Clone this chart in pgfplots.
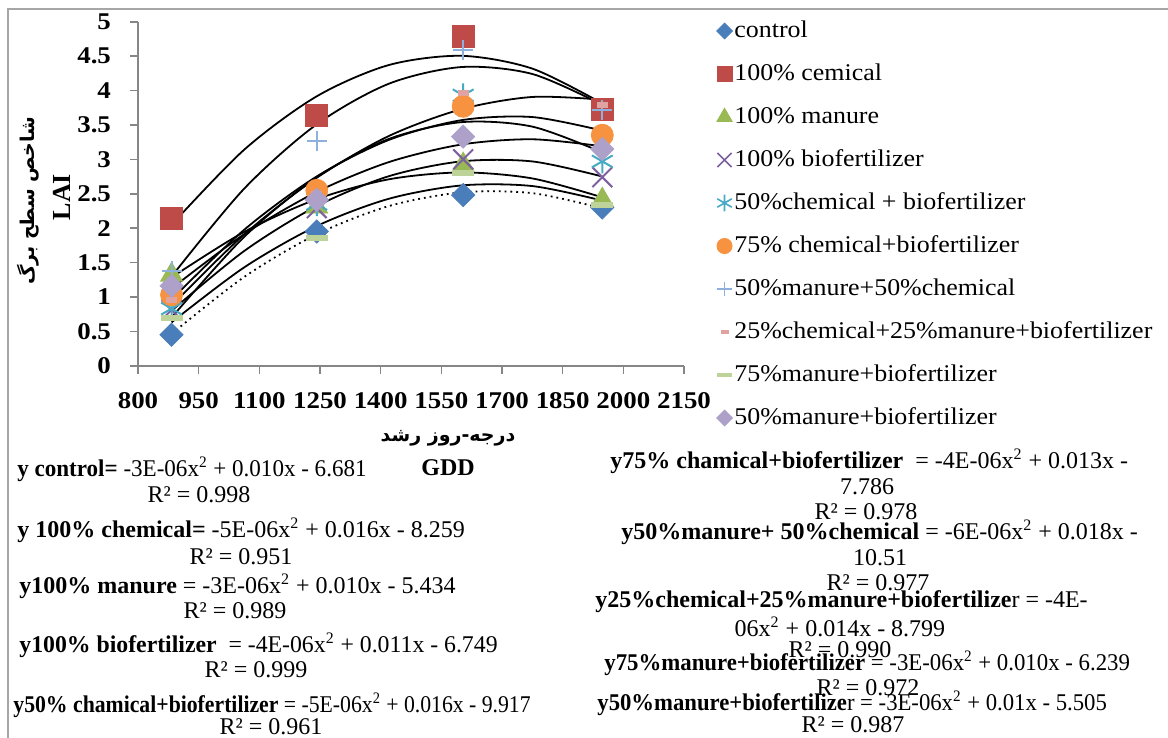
\documentclass[border=0pt]{standalone}
\usepackage{graphicx}
\usepackage{pgfplots}
\pgfplotsset{compat=1.18}
\usepackage{fontspec}
\setmainfont{Liberation Serif}
\newfontfamily\wide{Liberation Serif}[FakeStretch=1.12]
\newfontfamily\widel{Liberation Serif}[FakeStretch=1.08]
\newfontfamily\fa[Script=Arabic]{DejaVu Sans}
\TeXXeTstate=1
\definecolor{cBlue}{HTML}{4A7EBB}
\definecolor{cRed}{HTML}{BE4B48}
\definecolor{cGreen}{HTML}{98B954}
\definecolor{cPurple}{HTML}{7D60A0}
\definecolor{cTeal}{HTML}{46AAC5}
\definecolor{cOrange}{HTML}{F69240}
\definecolor{cLBlue}{HTML}{8EB0DC}
\definecolor{cPink}{HTML}{E0A3A2}
\definecolor{cLGreen}{HTML}{BDD39A}
\definecolor{cLav}{HTML}{ADA0C9}
\definecolor{axgray}{HTML}{868686}
\definecolor{framegray}{HTML}{A6A6A6}
\begin{document}
\begin{tikzpicture}
\useasboundingbox (0,0) rectangle (584pt,-369pt);
\begin{axis}[
  at={(69pt,-182.85pt)}, anchor=south west,
  scale only axis, width=273pt, height=172pt,
  xmin=800, xmax=2150, ymin=0, ymax=5,
  xtick={800,950,...,2150}, ytick={0,0.5,...,5},
  axis lines=left, axis line style={-, draw=axgray, line width=0.8pt},
  tick align=outside, major tick length=4pt,
  tick style={draw=axgray, line width=0.8pt},
  /pgf/number format/assume math mode=true,
  /pgf/number format/1000 sep={},
  ticklabel style={font=\wide\bfseries\fontsize{12}{12}\selectfont},
  xticklabel style={yshift=-6pt},
  yticklabel style={xshift=-6pt},
  legend style={at={(axis description cs:1.048,1.025)}, anchor=north west, draw=none, fill=none,
    font=\widel\fontsize{12}{14}\selectfont, row sep=8pt,
    nodes={inner sep=1pt, text height=9pt, text depth=2.5pt}},
  legend cell align=left,
  legend image code/.code={\draw[#1] plot coordinates {(4pt,0pt)};},
]
% data markers
\addplot[forget plot, only marks, mark=square*, mark size=4.1pt, color=cBlue, mark options={rotate=45}] coordinates {(883,0.45)(1242,1.95)(1604,2.48)(1948,2.30)};
\addplot[forget plot, only marks, mark=square*, mark size=5.5pt, color=cRed] coordinates {(883,2.14)(1242,3.64)(1604,4.78)(1948,3.72)};
\addplot[forget plot, only marks, mark=triangle*, mark size=6.3pt, color=cGreen] coordinates {(883,1.32)(1242,2.31)(1604,2.92)(1948,2.41)};
\addplot[forget plot, only marks, mark=x, mark size=7pt, color=cPurple, line width=1pt] coordinates {(883,0.81)(1242,2.29)(1604,3.00)(1948,2.74)};
\addplot[forget plot, only marks, mark=asterisk, mark size=6pt, color=cTeal, line width=1pt] coordinates {(883,0.83)(1242,2.35)(1604,3.93)(1948,2.97)};
\addplot[forget plot, only marks, mark=*, mark size=5.5pt, color=cOrange] coordinates {(883,1.03)(1242,2.55)(1604,3.77)(1948,3.35)};
\addplot[forget plot, only marks, mark=+, mark size=5pt, color=cLBlue, line width=1pt] coordinates {(883,1.38)(1242,3.26)(1604,4.59)(1948,3.71)};
\addplot[forget plot, only marks, mark=-, mark size=2.8pt, color=cPink, line width=3pt] coordinates {(883,0.95)(1242,2.50)(1604,3.96)(1948,3.79)};
\addplot[forget plot, only marks, mark=-, mark size=5.5pt, color=cLGreen, line width=3pt] coordinates {(883,0.69)(1242,1.85)(1604,2.80)(1948,2.34)};
\addplot[forget plot, only marks, mark=square*, mark size=4.1pt, color=cLav, mark options={rotate=45}] coordinates {(883,1.16)(1242,2.41)(1604,3.33)(1948,3.15)};
% trendlines (polynomial, order 2)
\addplot[forget plot, smooth, black, line width=0.9pt, dotted] coordinates {(883,0.463)(1063,1.292)(1242,1.911)(1420,2.320)(1600,2.519)(1775,2.508)(1948,2.287)};
\addplot[forget plot, smooth, black, line width=0.9pt] coordinates {(883,2.048)(1063,3.142)(1242,3.916)(1420,4.370)(1600,4.504)(1775,4.318)(1948,3.812)};
\addplot[forget plot, smooth, black, line width=0.9pt] coordinates {(883,1.283)(1063,1.946)(1242,2.421)(1420,2.709)(1600,2.809)(1775,2.722)(1948,2.447)};
\addplot[forget plot, smooth, black, line width=0.9pt] coordinates {(883,0.800)(1063,1.669)(1242,2.320)(1420,2.754)(1600,2.970)(1775,2.969)(1948,2.750)};
\addplot[forget plot, smooth, black, line width=0.9pt] coordinates {(883,0.700)(1063,1.875)(1242,2.740)(1420,3.295)(1600,3.540)(1775,3.475)(1948,3.100)};
\addplot[forget plot, smooth, black, line width=0.9pt] coordinates {(883,0.963)(1063,1.978)(1242,2.751)(1420,3.281)(1600,3.569)(1775,3.614)(1948,3.417)};
\addplot[forget plot, smooth, black, line width=0.9pt] coordinates {(883,1.297)(1063,2.576)(1242,3.509)(1420,4.098)(1600,4.341)(1775,4.240)(1948,3.793)};
\addplot[forget plot, smooth, black, line width=0.9pt] coordinates {(883,0.873)(1063,1.910)(1242,2.731)(1420,3.338)(1600,3.729)(1775,3.906)(1948,3.867)};
\addplot[forget plot, smooth, black, line width=0.9pt] coordinates {(883,0.630)(1063,1.431)(1242,2.030)(1420,2.426)(1600,2.620)(1775,2.611)(1948,2.400)};
\addplot[forget plot, smooth, black, line width=0.9pt] coordinates {(883,1.122)(1063,1.913)(1242,2.526)(1420,2.959)(1600,3.215)(1775,3.291)(1948,3.189)};
% legend
\addlegendimage{only marks, mark=square*, mark size=2.8pt, color=cBlue, mark options={rotate=45}}
\addlegendentry{control}
\addlegendimage{only marks, mark=square*, mark size=3.8pt, color=cRed}
\addlegendentry{100\% cemical}
\addlegendimage{only marks, mark=triangle*, mark size=4.4pt, color=cGreen}
\addlegendentry{100\% manure}
\addlegendimage{only marks, mark=x, mark size=5pt, color=cPurple, line width=0.8pt}
\addlegendentry{100\% biofertilizer}
\addlegendimage{only marks, mark=asterisk, mark size=4.2pt, color=cTeal, line width=0.8pt}
\addlegendentry{50\%chemical + biofertilizer}
\addlegendimage{only marks, mark=*, mark size=3.8pt, color=cOrange}
\addlegendentry{75\% chemical+biofertilizer}
\addlegendimage{only marks, mark=+, mark size=3.6pt, color=cLBlue, line width=0.8pt}
\addlegendentry{50\%manure+50\%chemical}
\addlegendimage{only marks, mark=-, mark size=2pt, color=cPink, line width=2pt}
\addlegendentry{25\%chemical+25\%manure+biofertilizer}
\addlegendimage{only marks, mark=-, mark size=3.8pt, color=cLGreen, line width=2pt}
\addlegendentry{75\%manure+biofertilizer}
\addlegendimage{only marks, mark=square*, mark size=2.8pt, color=cLav, mark options={rotate=45}}
\addlegendentry{50\%manure+biofertilizer}
\end{axis}
\begin{scope}[x=0.5pt, y=-0.5pt, every node/.style={inner sep=0pt, font=\fontsize{12}{14}\selectfont}]
\draw[framegray, line width=1pt] (8,745) -- (8,9) -- (1175,9);
% axis titles
\node[rotate=90, font=\fa\bfseries\fontsize{9.5}{11}\selectfont] at (28,201) {\beginR شاخص سطح برگ\endR};
\node[rotate=90, font=\bfseries\fontsize{13}{14}\selectfont] at (62,197) {LAI};
\node[font=\fa\bfseries\fontsize{9.5}{11}\selectfont] at (448,438) {\beginR درجه-روز رشد\endR};
\node[font=\bfseries\fontsize{12}{14}\selectfont] at (448,468) {GDD};
% equations, left
\node[anchor=west] at (17,469) {\scalebox{0.96}[1]{\textbf{y control=} -3E-06x\textsuperscript{2} + 0.010x - 6.681}};
\node at (199,495) {R² = 0.998};
\node[anchor=west] at (17,530) {\textbf{y 100\% chemical=} -5E-06x\textsuperscript{2} + 0.016x - 8.259};
\node at (241,557) {R² = 0.951};
\node[anchor=west] at (19,586) {\textbf{y100\% manure} = -3E-06x\textsuperscript{2} + 0.010x - 5.434};
\node at (235,611) {R² = 0.989};
\node[anchor=west] at (19,645) {\scalebox{0.99}[1]{\textbf{y100\% biofertilizer} \ = -4E-06x\textsuperscript{2} + 0.011x - 6.749}};
\node at (256,670) {R² = 0.999};
\node[anchor=west] at (13,705) {\scalebox{0.905}[1]{\textbf{y50\% chamical+biofertilizer} = -5E-06x\textsuperscript{2} + 0.016x - 9.917}};
\node at (271,727) {R² = 0.961};
% equations, right
\node[anchor=west] at (610,461) {\textbf{y75\% chamical+biofertilizer} \ = -4E-06x\textsuperscript{2} + 0.013x -};
\node at (867,487) {7.786};
\node at (866,512) {R² = 0.978};
\node[anchor=west] at (621,532) {\textbf{y50\%manure+ 50\%chemical} = -6E-06x\textsuperscript{2} + 0.018x -};
\node at (880,558) {10.51};
\node at (878,583) {R² = 0.977};
\node[anchor=west] at (595,602) {\textbf{y25\%chemical+25\%manure+biofertilize}r = -4E-};
\node at (840,627) {06x\textsuperscript{2} + 0.014x - 8.799};
\node at (840,650) {R² = 0.990};
\node[anchor=west] at (604,663) {\scalebox{0.95}[1]{\textbf{y75\%manure+biofertilizer} = -3E-06x\textsuperscript{2} + 0.010x - 6.239}};
\node at (868,688) {R² = 0.972};
\node[anchor=west] at (597,703) {\scalebox{0.946}[1]{\textbf{y50\%manure+biofertilize}r = -3E-06x\textsuperscript{2} + 0.01x - 5.505}};
\node at (853,725) {R² = 0.987};
\end{scope}
\end{tikzpicture}
\end{document}
